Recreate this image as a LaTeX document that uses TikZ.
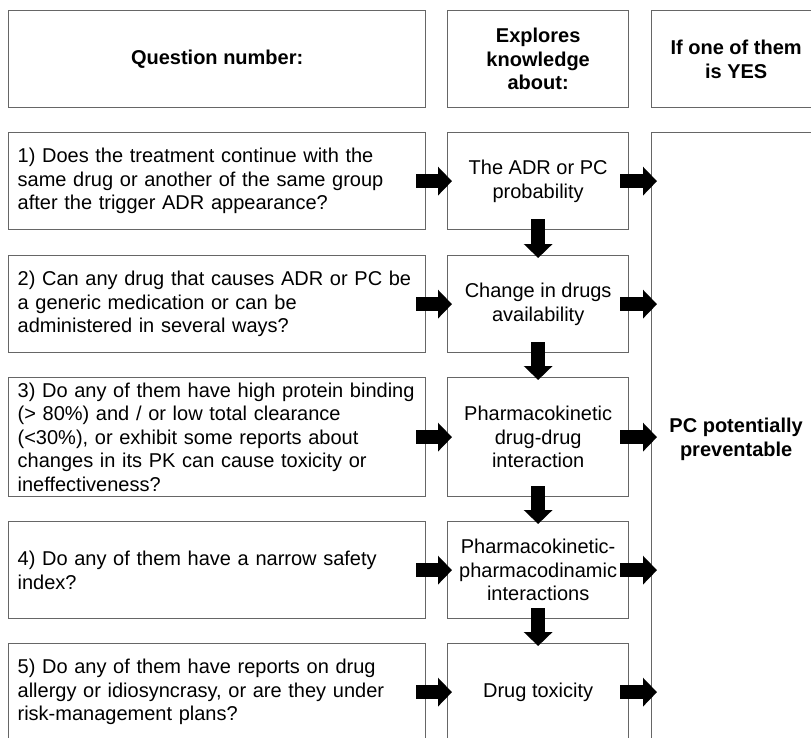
\documentclass[tikz,border=0pt]{standalone}
\usepackage{fontspec}
\setmainfont{Liberation Sans}
\usetikzlibrary{arrows.meta,positioning}
\begin{document}
\begin{tikzpicture}[x=1pt,y=-1pt,
  txt/.style={font=\fontsize{20}{23.6}\selectfont},
  box/.style={txt,draw=black!60,line width=1.3pt,rectangle,anchor=north west,inner sep=0pt},
  qbox/.style={box,text width=399pt,inner xsep=9pt,align=left,minimum height=#1},
  mbox/.style={box,minimum width=181pt,align=center,minimum height=#1},
  hbox/.style={box,font=\fontsize{20}{23.6}\selectfont\bfseries,align=center,minimum height=97pt},
  barrow/.style={line width=14pt,line cap=butt,-{Triangle[width=28pt,length=14pt]}}
]
\useasboundingbox (0,0) rectangle (811,738);
\clip (0,0) rectangle (811,738);
% headers
\node[hbox,minimum width=417pt] (hq) at (8,10) {Question number:};
\node[hbox,minimum width=181pt] (hm) at (447,10) {Explores\\knowledge\\about:};
\node[hbox,minimum width=169pt] (hr) at (651,10) {If one of them\\is YES};
% tall right box
\node[box,font=\fontsize{20}{23.6}\selectfont\bfseries,align=center,minimum width=169pt,minimum height=613pt] (tall) at (651,132) {PC potentially\\preventable};
% questions
\node[qbox=97pt] (q1) at (8,132) {\mbox{1) Does the treatment continue with the}\\\mbox{same drug or another of the same group}\\\mbox{after the trigger ADR appearance?}};
\node[qbox=97pt] (q2) at (8,255) {\mbox{2) Can any drug that causes ADR or PC be}\\\mbox{a generic medication or can be}\\\mbox{administered in several ways?}};
\node[qbox=119pt] (q3) at (8,377) {\mbox{3) Do any of them have high protein binding}\\\mbox{(> 80\%) and / or low total clearance}\\\mbox{(<30\%), or exhibit some reports about}\\\mbox{changes in its PK can cause toxicity or}\\\mbox{ineffectiveness?}};
\node[qbox=97pt] (q4) at (8,521) {\mbox{4) Do any of them have a narrow safety}\\\mbox{index?}};
\node[qbox=97pt] (q5) at (8,643) {\mbox{5) Do any of them have reports on drug}\\\mbox{allergy or idiosyncrasy, or are they under}\\\mbox{risk-management plans?}};
% middle
\node[mbox=97pt] (m1) at (447,132) {The ADR or PC\\probability};
\node[mbox=97pt] (m2) at (447,255) {Change in drugs\\availability};
\node[mbox=119pt] (m3) at (447,377) {Pharmacokinetic\\drug-drug\\interaction};
\node[mbox=97pt] (m4) at (447,521) {Pharmacokinetic-\\pharmacodinamic\\interactions};
\node[mbox=97pt] (m5) at (447,643) {Drug toxicity};
% arrows
\foreach \i in {1,...,5}{
  \draw[barrow] ([xshift=-10pt]q\i.east) -- ([xshift=5pt]q\i.east -| m\i.west);
  \draw[barrow] ([xshift=-9pt]m\i.east) -- ([xshift=6pt]m\i.east -| tall.west);
}
\foreach \i/\j in {1/2,2/3,3/4,4/5}{
  \draw[barrow] ([yshift=11pt]m\i.south) -- ([yshift=-3pt]m\j.north);
}
\end{tikzpicture}
\end{document}
